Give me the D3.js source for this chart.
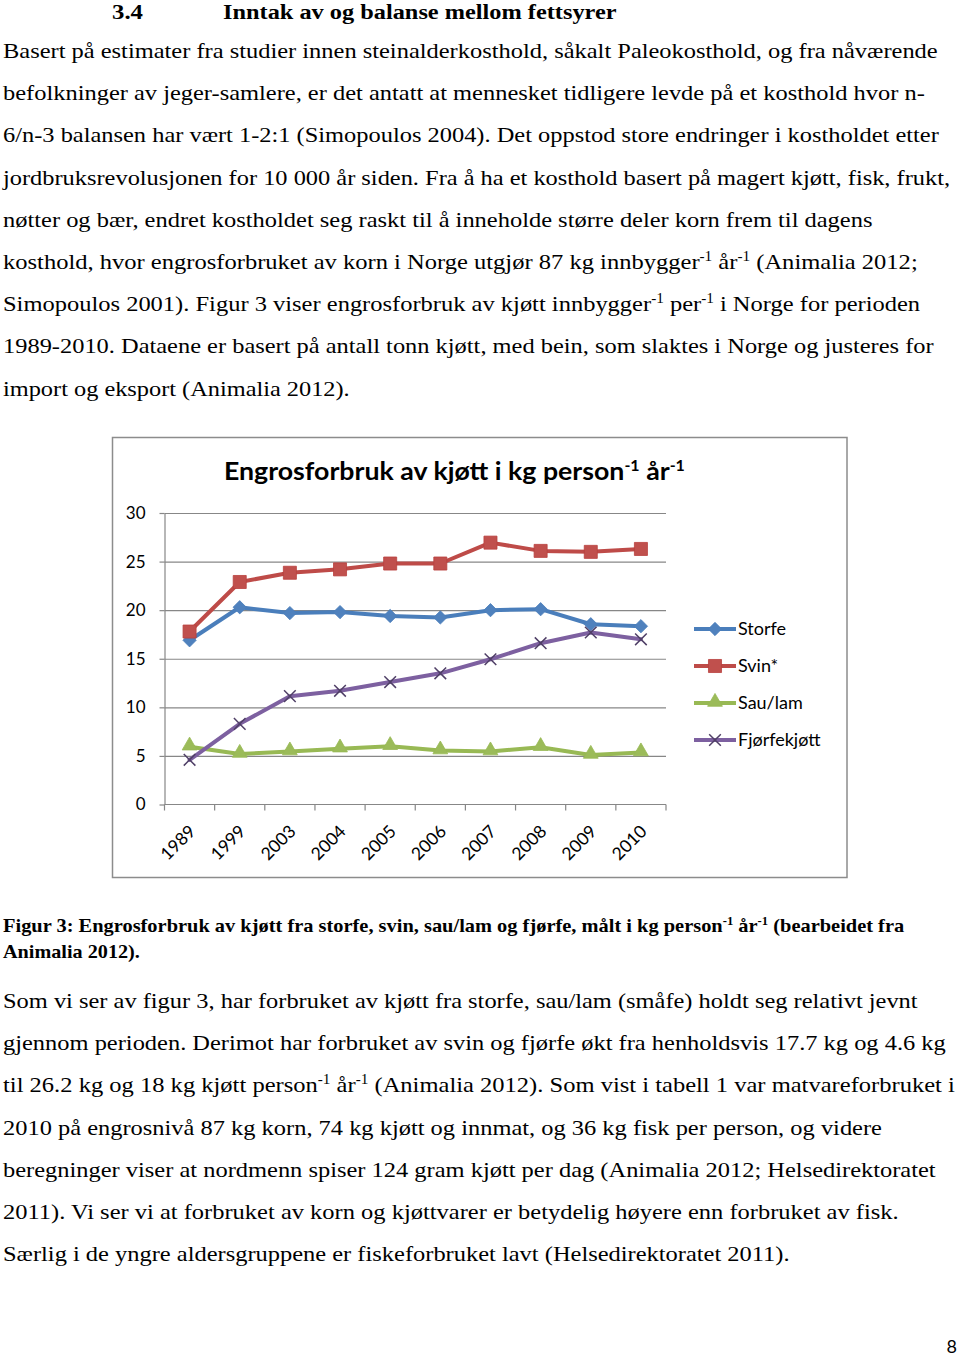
<!DOCTYPE html>
<html>
<head>
<meta charset="utf-8">
<script src="https://cdn.jsdelivr.net/npm/d3@7/dist/d3.min.js"></script>
<style>
  html, body { margin: 0; padding: 0; background: #fff; }
  svg { display: block; }
</style>
</head>
<body>
<svg id="page" width="960" height="1360"></svg>
<script>
// ---------- DATA ----------
const categories = ["1989", "1999", "2003", "2004", "2005", "2006", "2007", "2008", "2009", "2010"];
const storfe  = [16.9, 20.3, 19.7, 19.8, 19.4, 19.25, 20.0, 20.1, 18.55, 18.35];
const svin    = [17.8, 22.9, 23.85, 24.2, 24.8, 24.8, 26.95, 26.1, 26.0, 26.3];
const sauLam  = [5.95, 5.2, 5.45, 5.75, 6.0, 5.55, 5.45, 5.9, 5.1, 5.35];
const fjorfe  = [4.6, 8.3, 11.15, 11.7, 12.6, 13.5, 14.95, 16.6, 17.7, 17.0];
const seriesNames = ["Storfe", "Svin*", "Sau/lam", "Fjørfekjøtt"];
const yTicks = [0, 5, 10, 15, 20, 25, 30];
const chartTitle = "Engrosforbruk av kjøtt i kg person^{-1} år^{-1}";

const headingNum = "3.4";
const headingText = "Inntak av og balanse mellom fettsyrer";
const para1 = [
  "Basert på estimater fra studier innen steinalderkosthold, såkalt Paleokosthold, og fra nåværende",
  "befolkninger av jeger-samlere, er det antatt at mennesket tidligere levde på et kosthold hvor n-",
  "6/n-3 balansen har vært 1-2:1 (Simopoulos 2004). Det oppstod store endringer i kostholdet etter",
  "jordbruksrevolusjonen for 10 000 år siden. Fra å ha et kosthold basert på magert kjøtt, fisk, frukt,",
  "nøtter og bær, endret kostholdet seg raskt til å inneholde større deler korn frem til dagens",
  "kosthold, hvor engrosforbruket av korn i Norge utgjør 87 kg innbygger^{-1} år^{-1} (Animalia 2012;",
  "Simopoulos 2001). Figur 3 viser engrosforbruk av kjøtt innbygger^{-1} per^{-1} i Norge for perioden",
  "1989-2010. Dataene er basert på antall tonn kjøtt, med bein, som slaktes i Norge og justeres for",
  "import og eksport (Animalia 2012)."
];
const para1Right = [938, 925, 940, 952, 873, 918, 921, 935, 350];
const caption = [
  "Figur 3: Engrosforbruk av kjøtt fra storfe, svin, sau/lam og fjørfe, målt i kg person^{-1} år^{-1} (bearbeidet fra",
  "Animalia 2012)."
];
const captionRight = [905, 140];
const para2 = [
  "Som vi ser av figur 3, har forbruket av kjøtt fra storfe, sau/lam (småfe) holdt seg relativt jevnt",
  "gjennom perioden. Derimot har forbruket av svin og fjørfe økt fra henholdsvis 17.7 kg og 4.6 kg",
  "til 26.2 kg og 18 kg kjøtt person^{-1} år^{-1} (Animalia 2012). Som vist i tabell 1 var matvareforbruket i",
  "2010 på engrosnivå 87 kg korn, 74 kg kjøtt og innmat, og 36 kg fisk per person, og videre",
  "beregninger viser at nordmenn spiser 124 gram kjøtt per dag (Animalia 2012; Helsedirektoratet",
  "2011). Vi ser vi at forbruket av korn og kjøttvarer er betydelig høyere enn forbruket av fisk.",
  "Særlig i de yngre aldersgruppene er fiskeforbruket lavt (Helsedirektoratet 2011)."
];
const para2Right = [918, 946, 955, 882, 936, 899, 790];
const pageNumber = "8";

// ---------- HELPERS ----------
const svg = d3.select("#page");
svg.append("rect").attr("width", 960).attr("height", 1360).attr("fill", "#fff");

function addRichText(g, str, fontSize, supSize, supRise) {
  const parts = str.split(/\^\{([^}]*)\}/);
  const t = g.append("text");
  let raised = false;
  parts.forEach((p, i) => {
    if (p === "") return;
    const isSup = i % 2 === 1;
    const ts = t.append("tspan").text(p);
    if (isSup) {
      ts.attr("font-size", supSize).attr("dy", raised ? 0 : -supRise);
      raised = true;
    } else {
      ts.attr("font-size", fontSize).attr("dy", raised ? supRise : 0);
      raised = false;
    }
  });
  return t;
}

function fitLine(str, x0, x1, baseline, opts) {
  const g = svg.append("g")
    .attr("font-family", opts.family)
    .attr("font-weight", opts.weight || "normal")
    .attr("fill", opts.fill || "#000");
  const t = addRichText(g, str, opts.size, opts.supSize || opts.size * 0.62, opts.supRise || opts.size * 0.38);
  const w = t.node().getBBox().width;
  const sx = (x1 - x0) / w;
  g.attr("transform", `translate(${x0},${baseline}) scale(${sx},1)`);
  return g;
}

const serif = "'Liberation Serif', 'Times New Roman', serif";
const sans = "Lato, 'Open Sans', sans-serif";

// ---------- PAGE TEXT ----------
fitLine(headingNum, 112, 143, 19, { family: serif, size: 22, weight: "bold" });
fitLine(headingText, 223, 617, 19, { family: serif, size: 22, weight: "bold" });

para1.forEach((l, i) => fitLine(l, 3, para1Right[i], 58 + i * 42.2, { family: serif, size: 22 }));
caption.forEach((l, i) => fitLine(l, 3, captionRight[i], 932 + i * 26, { family: serif, size: 18.5, weight: "bold" }));
para2.forEach((l, i) => fitLine(l, 3, para2Right[i], 1008 + i * 42.2, { family: serif, size: 22 }));

svg.append("text").attr("x", 957).attr("y", 1353).attr("text-anchor", "end")
  .attr("font-family", sans).attr("font-size", 18).attr("fill", "#000").text(pageNumber);

// ---------- CHART ----------
const frame = { x0: 112.5, y0: 437.5, x1: 847, y1: 877.5 };
svg.append("rect")
  .attr("x", frame.x0).attr("y", frame.y0)
  .attr("width", frame.x1 - frame.x0).attr("height", frame.y1 - frame.y0)
  .attr("fill", "#fff").attr("stroke", "#8c8c8c").attr("stroke-width", 1.5);

const plot = { left: 164.5, right: 666, top: 513, bottom: 804.5 };
const x = d3.scaleBand().domain(categories).range([plot.left, plot.right]);
const y = d3.scaleLinear().domain([0, 30]).range([plot.bottom, plot.top]);
const cx = d => x(d) + x.bandwidth() / 2;

const gridColor = "#878787";

// gridlines
svg.append("g")
  .attr("transform", `translate(${plot.left},0)`)
  .call(d3.axisLeft(y).tickValues(yTicks.filter(v => v > 0)).tickSize(-(plot.right - plot.left)).tickFormat(""))
  .call(g => g.select(".domain").remove())
  .call(g => g.selectAll("line").attr("stroke", gridColor).attr("stroke-width", 1.2));

// y axis
svg.append("g")
  .attr("transform", `translate(${plot.left},0)`)
  .call(d3.axisLeft(y).tickValues(yTicks).tickSize(5).tickSizeOuter(0).tickPadding(14))
  .call(g => g.select(".domain").attr("stroke", gridColor).attr("stroke-width", 1.2))
  .call(g => g.selectAll("line").attr("stroke", gridColor).attr("stroke-width", 1.2))
  .call(g => g.selectAll("text").attr("font-family", sans).attr("font-size", 17).attr("fill", "#000"));

// x axis line
svg.append("line")
  .attr("x1", plot.left).attr("x2", plot.right)
  .attr("y1", y(0)).attr("y2", y(0))
  .attr("stroke", gridColor).attr("stroke-width", 1.2);

// x ticks at band boundaries
const boundaries = categories.map(c => x(c)).concat([x(categories[categories.length - 1]) + x.bandwidth()]);
svg.append("g").selectAll("line").data(boundaries).join("line")
  .attr("x1", d => d).attr("x2", d => d)
  .attr("y1", y(0)).attr("y2", y(0) + 6)
  .attr("stroke", gridColor).attr("stroke-width", 1.2);

// x labels
svg.append("g").selectAll("text").data(categories).join("text")
  .attr("transform", d => `translate(${cx(d) + 7},${y(0) + 28}) rotate(-45)`)
  .attr("text-anchor", "end")
  .attr("font-family", sans).attr("font-size", 17.5).attr("fill", "#000")
  .text(d => d);

// title
fitLine(chartTitle, 224, 685, 480, { family: sans, size: 25, weight: "bold", supSize: 15, supRise: 9 });

// series
const series = [
  { name: seriesNames[0], values: storfe, line: "#4A7EBB", fill: "#4F81BD", marker: "diamond" },
  { name: seriesNames[1], values: svin, line: "#BE4B48", fill: "#C0504D", marker: "square" },
  { name: seriesNames[2], values: sauLam, line: "#98B954", fill: "#9BBB59", marker: "triangle" },
  { name: seriesNames[3], values: fjorfe, line: "#7D60A0", fill: "#4F3F66", marker: "x" }
];

function drawMarker(g, type, s) {
  if (type === "diamond") {
    g.append("path").attr("d", d3.symbol(d3.symbolSquare, 88)())
      .attr("transform", "rotate(45)").attr("fill", s.fill).attr("stroke", s.line).attr("stroke-width", 0.8);
  } else if (type === "square") {
    g.append("path").attr("d", d3.symbol(d3.symbolSquare, 170)())
      .attr("fill", s.fill).attr("stroke", "#B9403D").attr("stroke-width", 0.8);
  } else if (type === "triangle") {
    g.append("path").attr("d", d3.symbol(d3.symbolTriangle, 95)())
      .attr("transform", "translate(0,-1)")
      .attr("fill", s.fill).attr("stroke", s.line).attr("stroke-width", 0.8);
  } else {
    g.append("path").attr("d", d3.symbol(d3.symbolX, 90)())
      .attr("fill", "none").attr("stroke", s.fill).attr("stroke-width", 1.5);
  }
}

const lineGen = d3.line().x((d, i) => cx(categories[i])).y(d => y(d));

series.forEach(s => {
  svg.append("path").datum(s.values)
    .attr("d", lineGen)
    .attr("fill", "none").attr("stroke", s.line)
    .attr("stroke-width", 4).attr("stroke-linejoin", "round").attr("stroke-linecap", "round");
  const mg = svg.append("g");
  s.values.forEach((v, i) => {
    const g = mg.append("g").attr("transform", `translate(${cx(categories[i])},${y(v)})`);
    drawMarker(g, s.marker, s);
  });
});

// legend
const legendY = d3.scalePoint().domain(seriesNames).range([629, 740]);
series.forEach(s => {
  const ly = legendY(s.name);
  svg.append("line").attr("x1", 694).attr("x2", 736).attr("y1", ly).attr("y2", ly)
    .attr("stroke", s.line).attr("stroke-width", 4);
  const g = svg.append("g").attr("transform", `translate(715,${ly})`);
  drawMarker(g, s.marker, s);
  svg.append("text").attr("x", 738).attr("y", ly + 6)
    .attr("font-family", sans).attr("font-size", 18).attr("fill", "#000")
    .text(s.name);
});
</script>
</body>
</html>
